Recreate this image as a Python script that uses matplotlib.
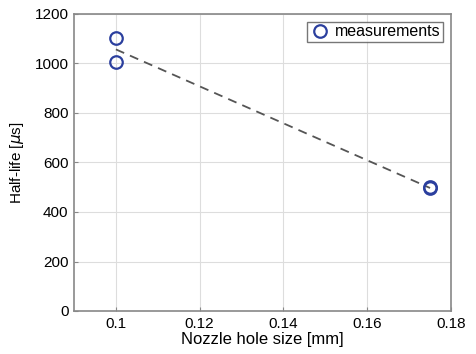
import matplotlib
matplotlib.use("Agg")
import matplotlib.pyplot as plt
import numpy as np

plt.rcParams['font.family'] = ['Liberation Sans', 'DejaVu Sans']

nozzle = [0.1, 0.1, 0.175, 0.175]
halflife = [1105, 1005, 500, 495]
fit_x = [0.1, 0.175]
fit_y = [1057, 497]
xticks = [0.1, 0.12, 0.14, 0.16, 0.18]
yticks = [0, 200, 400, 600, 800, 1000, 1200]

fig = plt.figure(figsize=(4.77, 3.54), dpi=100)
ax = fig.add_axes([74/477, 1-311/354, (451-74)/477, (311-14)/354])

ax.plot(fit_x, fit_y, '--', color='#555555', lw=1.3, dashes=(5, 3.5), zorder=2)
ax.plot(nozzle, halflife, 'o', mfc='none', mec='#2b3f9e', mew=1.6, ms=9,
        label='measurements', zorder=3)

ax.set_xlim(0.09, 0.18)
ax.set_ylim(0, 1200)
ax.set_xticks(xticks)
ax.set_xticklabels([f"{t:g}" for t in xticks])
ax.set_yticks(yticks)
ax.grid(True, color='#dddddd', lw=0.8)
ax.set_axisbelow(True)
for s in ax.spines.values():
    s.set_color('#888888')
    s.set_linewidth(1.2)
ax.tick_params(direction='in', length=3, color='#888888', labelsize=11, pad=4)
ax.set_xlabel('Nozzle hole size [mm]', fontsize=12, labelpad=1)
ax.set_ylabel(r'Half-life [$\mu$s]', fontsize=11, labelpad=6)

leg = ax.legend(loc='upper right', fontsize=11.5, frameon=True, fancybox=False,
                borderpad=0.15, handletextpad=0.3, borderaxespad=0.5, handlelength=1.3)
leg.get_frame().set_edgecolor('#555555')
leg.get_frame().set_linewidth(1.0)

fig.savefig('out.png', dpi=100)
